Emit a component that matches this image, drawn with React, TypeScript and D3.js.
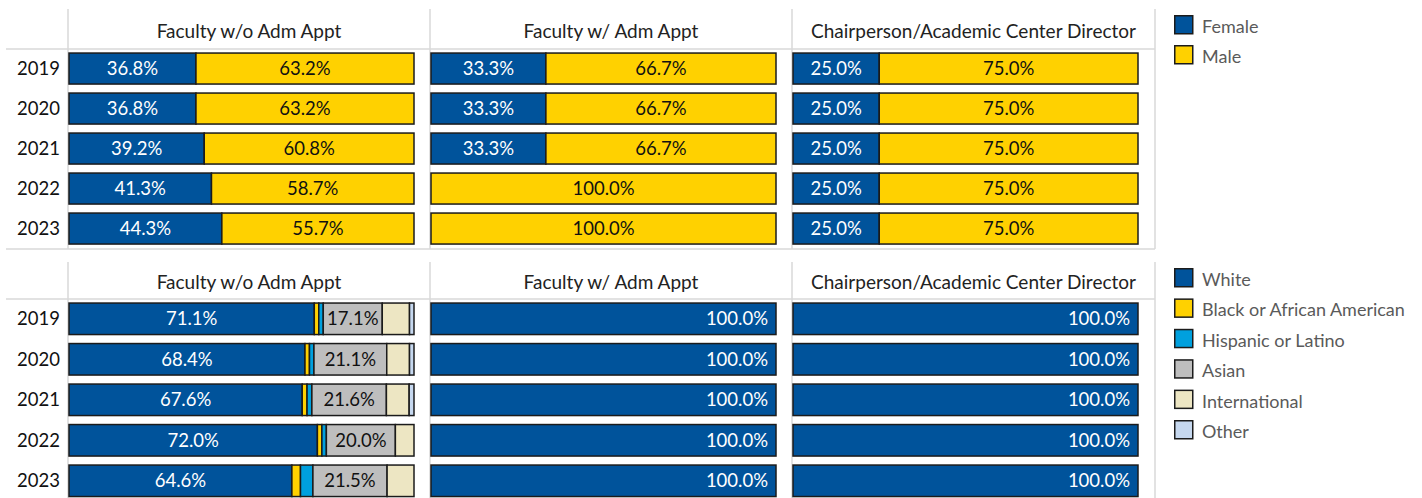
import React from 'react'
import { scaleLinear, scaleBand, scaleOrdinal } from 'd3'

const years = ['2019', '2020', '2021', '2022', '2023']
const roles = ['Faculty w/o Adm Appt', 'Faculty w/ Adm Appt', 'Chairperson/Academic Center Director']

const genders = ['Female', 'Male']
const femalePct = [
  [36.8, 36.8, 39.2, 41.3, 44.3],
  [33.3, 33.3, 33.3, 0, 0],
  [25.0, 25.0, 25.0, 25.0, 25.0],
]
const malePct = [
  [63.2, 63.2, 60.8, 58.7, 55.7],
  [66.7, 66.7, 66.7, 100.0, 100.0],
  [75.0, 75.0, 75.0, 75.0, 75.0],
]

const races = ['White', 'Black or African American', 'Hispanic or Latino', 'Asian', 'International', 'Other']
const whitePct = [
  [71.1, 68.4, 67.6, 72.0, 64.6],
  [100, 100, 100, 100, 100],
  [100, 100, 100, 100, 100],
]
const blackPct = [
  [1.3, 1.3, 1.4, 1.3, 2.5],
  [0, 0, 0, 0, 0],
  [0, 0, 0, 0, 0],
]
const hispanicPct = [
  [1.3, 1.3, 1.4, 1.3, 3.6],
  [0, 0, 0, 0, 0],
  [0, 0, 0, 0, 0],
]
const asianPct = [
  [17.1, 21.1, 21.6, 20.0, 21.5],
  [0, 0, 0, 0, 0],
  [0, 0, 0, 0, 0],
]
const internationalPct = [
  [7.9, 6.6, 6.6, 5.4, 7.8],
  [0, 0, 0, 0, 0],
  [0, 0, 0, 0, 0],
]
const otherPct = [
  [1.3, 1.3, 1.4, 0, 0],
  [0, 0, 0, 0, 0],
  [0, 0, 0, 0, 0],
]

const genderColor = scaleOrdinal<string, string>().domain(genders).range(['#00539b', '#ffd100'])
const raceColor = scaleOrdinal<string, string>()
  .domain(races)
  .range(['#00539b', '#ffd100', '#00a0de', '#bebebe', '#ede6c3', '#c6d8ef'])
const darkText = new Set(['Male', 'Black or African American', 'Asian', 'International', 'Other'])

const FONT = 'Lato, sans-serif'
const gridColor = '#d9d9d9'
const paneX = [68, 430, 792, 1155]
const leftEdge = 6

type Seg = { key: string; start: number; value: number }

function stack(keys: string[], series: number[][][], roleIdx: number, yearIdx: number): Seg[] {
  let acc = 0
  return keys.map((k, i) => {
    const v = series[i][roleIdx][yearIdx]
    const s = { key: k, start: acc, value: v }
    acc += v
    return s
  })
}

function Section({ top, headerBottom, bottom, band, keys, series, color, rightAlignFull }: {
  top: number; headerBottom: number; bottom: number; band: number
  keys: string[]; series: number[][][]; color: (k: string) => string; rightAlignFull: boolean
}) {
  const y = scaleBand<string>()
    .domain(years)
    .range([headerBottom, headerBottom + band * years.length])
    .paddingInner(9 / band)
    .paddingOuter(4.5 / band)
    .align(0.45)
  return (
    <g>
      {paneX.map((px, i) => (
        <line key={'v' + i} x1={px} x2={px} y1={top} y2={bottom} stroke={gridColor} strokeWidth={1.5} />
      ))}
      <line x1={leftEdge} x2={paneX[3]} y1={headerBottom} y2={headerBottom} stroke={gridColor} strokeWidth={1.5} />
      {bottom < 490 && (
        <line x1={leftEdge} x2={paneX[3]} y1={bottom} y2={bottom} stroke={gridColor} strokeWidth={1.5} />
      )}
      {years.map((yr) => (
        <text key={yr} x={60} y={y(yr)! + y.bandwidth() / 2} dy="0.36em" textAnchor="end"
          fontSize={18.5} fill="#111" fontFamily={FONT}>{yr}</text>
      ))}
      {roles.map((role, r) => {
        const x0 = paneX[r] + 1
        const x = scaleLinear().domain([0, 100]).range([x0, x0 + 345])
        return (
          <g key={role}>
            <text x={(paneX[r] + paneX[r + 1]) / 2} y={(top + headerBottom) / 2 + 2} dy="0.36em" textAnchor="middle"
              fontSize={19} fill="#222" fontFamily={FONT}>{role}</text>
            {years.map((yr, yi) => {
              const segs = stack(keys, series, r, yi).filter((s) => s.value > 0)
              const by = y(yr)!
              const bh = y.bandwidth()
              return (
                <g key={yr}>
                  {segs.map((s) => (
                    <rect key={s.key} x={x(s.start)} y={by} width={x(s.start + s.value) - x(s.start)} height={bh}
                      fill={color(s.key)} stroke="#1b1b1b" strokeWidth={1.5} />
                  ))}
                  {segs.map((s) => {
                    const w = x(s.start + s.value) - x(s.start)
                    if (w < 50) return null
                    const full = rightAlignFull && s.value >= 100
                    return (
                      <text key={s.key + 'l'} x={full ? x(100) - 8 : x(s.start) + w / 2} y={by + bh / 2} dy="0.36em"
                        textAnchor={full ? 'end' : 'middle'} fontSize={18.5} fontFamily={FONT}
                        fill={darkText.has(s.key) ? '#111' : '#fff'}>{s.value.toFixed(1)}%</text>
                    )
                  })}
                </g>
              )
            })}
          </g>
        )
      })}
    </g>
  )
}

function Legend({ keys, color, y0, step }: { keys: string[]; color: (k: string) => string; y0: number; step: number }) {
  return (
    <g>
      {keys.map((k, i) => (
        <g key={k} transform={`translate(1174, ${y0 + i * step})`}>
          <rect x={0.75} y={0.75} width={18} height={18} fill={color(k)} stroke="#1b1b1b" strokeWidth={1.5} />
          <text x={28} y={11.5} dy="0.36em" fontSize={18} fill="#5a5a5a" fontFamily={FONT}>{k}</text>
        </g>
      ))}
    </g>
  )
}

export default function App() {
  return (
    <svg width={1422} height={498} style={{ position: 'absolute', left: 0, top: 0, background: '#fff' }}>
      <Section top={9} headerBottom={49} bottom={249} band={40} keys={genders}
        series={[femalePct, malePct]} color={genderColor} rightAlignFull={false} />
      <Section top={262} headerBottom={299} bottom={500} band={40.5} keys={races}
        series={[whitePct, blackPct, hispanicPct, asianPct, internationalPct, otherPct]}
        color={raceColor} rightAlignFull={true} />
      <Legend keys={genders} color={genderColor} y0={15} step={30} />
      <Legend keys={races} color={raceColor} y0={268} step={30.4} />
    </svg>
  )
}
